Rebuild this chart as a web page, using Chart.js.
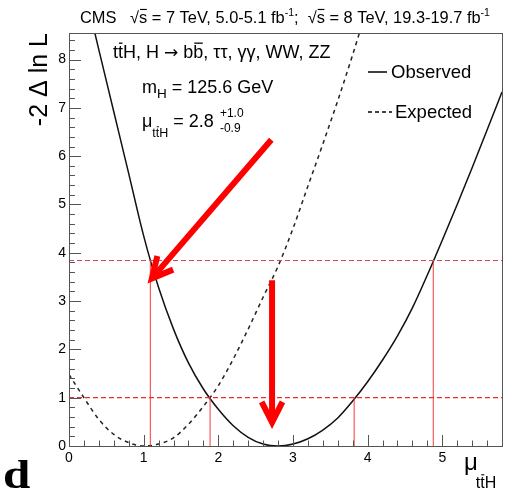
<!DOCTYPE html>
<html>
<head>
<meta charset="utf-8">
<script src="https://cdn.jsdelivr.net/npm/chart.js@4/dist/chart.umd.min.js"></script>
<style>
  html, body { margin: 0; padding: 0; background: #fff; }
  #plot { display: block; }
</style>
</head>
<body>
<canvas id="plot" width="510" height="492"></canvas>
<script>
// ── DATA ───────────────────────────────────────────────────────────────────

// observed likelihood scan, -2 Δ ln L vs μ(ttH)
const MU_OBS  = [0.3, 0.4, 0.6, 0.8, 1.0, 1.2, 1.4, 1.6, 1.8, 2.0, 2.2, 2.4, 2.6, 2.8,
                 3.0, 3.2, 3.4, 3.6, 3.8, 4.0, 4.2, 4.4, 4.6, 4.8, 5.0, 5.2, 5.4, 5.6, 5.8];
const NLL_OBS = [8.85, 8.2, 6.92, 5.64, 4.35, 3.28, 2.42, 1.72, 1.18, 0.76, 0.42, 0.18, 0.04, 0.0,
                 0.04, 0.15, 0.33, 0.58, 0.93, 1.33, 1.78, 2.28, 2.86, 3.54, 4.26, 5.0, 5.76, 6.54, 7.33];

// expected (SM, μ = 1) scan
const MU_EXP  = [0, 0.2, 0.4, 0.6, 0.8, 1.0, 1.2, 1.4, 1.6, 1.8, 2.0,
                 2.2, 2.4, 2.6, 2.8, 3.0, 3.2, 3.4, 3.6, 3.8, 3.9];
const NLL_EXP = [1.48, 1.0, 0.55, 0.24, 0.07, 0.0, 0.04, 0.17, 0.45, 0.82, 1.25,
                 1.8, 2.42, 3.08, 3.72, 4.5, 5.38, 6.25, 7.15, 8.1, 8.6];

// 68% / 95% CL thresholds and where the observed curve crosses them
const CL_LEVELS   = [1, 3.84];
const CROSS_1SIG  = [1.89, 3.82];
const CROSS_2SIG  = [1.09, 4.88];

const X_RANGE = [0, 5.8];
const Y_RANGE = [0, 8.55];

// hand-drawn red arrows, [from, to] in (μ, -2ΔlnL)
const ARROWS = [
  [[2.71, 6.34], [1.11, 3.47]],
  [[2.72, 3.43], [2.72, 0.49]],
];

// ── HELPERS ────────────────────────────────────────────────────────────────

const FONT = '"Liberation Sans", Arial, Helvetica, sans-serif';
const pts = (xs, ys) => xs.map((x, i) => ({ x, y: ys[i] }));

// draws a row of text runs; each run may be raised/lowered and carry an overbar
function drawRuns(ctx, x, y, runs) {
  runs.forEach(r => {
    const size = r.size;
    ctx.font = `${size}px ${r.family || FONT}`;
    const w = ctx.measureText(r.t).width;
    const yy = y + (r.dy || 0);
    ctx.fillText(r.t, x, yy);
    if (r.bar) {
      const bw = ctx.measureText(r.bar).width;
      ctx.fillRect(x + w - bw + 1, yy - size * 0.86, bw - 1.5, Math.max(1, size * 0.07));
    }
    if (!r.stay) x += w;
  });
  return x;
}

function vline(x, y0, y1, color) {
  return {
    data: [{ x, y: y0 }, { x, y: y1 }],
    borderColor: color, borderWidth: 1.2, pointRadius: 0, showLine: true,
  };
}

function hline(y, color) {
  return {
    data: [{ x: X_RANGE[0], y }, { x: X_RANGE[1], y }],
    borderColor: color, borderWidth: 1.2, borderDash: [5, 3], pointRadius: 0, showLine: true,
  };
}

// ── PLUGIN: ROOT-style frame, inward ticks, labels, arrows ─────────────────

const decorations = {
  id: 'decorations',
  afterDatasetsDraw(chart) {
    const { ctx, chartArea: a, scales: { x, y } } = chart;
    ctx.save();

    // frame
    ctx.strokeStyle = '#555';
    ctx.lineWidth = 1;
    ctx.strokeRect(Math.round(a.left) + 0.5, Math.round(a.top) + 0.5,
                   Math.round(a.right - a.left), Math.round(a.bottom - a.top));

    // inward ticks, 5 subdivisions per unit
    ctx.beginPath();
    for (let i = 0; i * 0.2 <= X_RANGE[1] + 1e-6; i++) {
      const px = Math.round(x.getPixelForValue(i * 0.2)) + 0.5;
      const len = i % 5 === 0 ? 11 : 5.5;
      ctx.moveTo(px, a.bottom);
      ctx.lineTo(px, a.bottom - len);
    }
    for (let i = 0; i * 0.2 <= Y_RANGE[1] + 1e-6; i++) {
      const py = Math.round(y.getPixelForValue(i * 0.2)) + 0.5;
      const len = i % 5 === 0 ? 12 : 6;
      ctx.moveTo(a.left, py);
      ctx.lineTo(a.left + len, py);
    }
    ctx.stroke();

    // red arrows
    ctx.strokeStyle = '#ff0000';
    ctx.lineWidth = 6;
    ctx.lineCap = 'butt';
    ctx.lineJoin = 'miter';
    ARROWS.forEach(([from, to]) => {
      const x0 = x.getPixelForValue(from[0]), y0 = y.getPixelForValue(from[1]);
      const x1 = x.getPixelForValue(to[0]),   y1 = y.getPixelForValue(to[1]);
      const ang = Math.atan2(y1 - y0, x1 - x0);
      const head = 23, spread = 0.47;
      ctx.beginPath();
      ctx.moveTo(x0, y0);
      ctx.lineTo(x1 - 4 * Math.cos(ang), y1 - 4 * Math.sin(ang));
      ctx.stroke();
      ctx.beginPath();
      ctx.moveTo(x1 - head * Math.cos(ang - spread), y1 - head * Math.sin(ang - spread));
      ctx.lineTo(x1, y1);
      ctx.lineTo(x1 - head * Math.cos(ang + spread), y1 - head * Math.sin(ang + spread));
      ctx.stroke();
    });

    ctx.restore();
  },

  afterDraw(chart) {
    const { ctx } = chart;
    ctx.save();
    ctx.fillStyle = '#000';
    ctx.textBaseline = 'alphabetic';
    ctx.textAlign = 'left';

    // header
    drawRuns(ctx, 80, 23, [
      { t: 'CMS   ', size: 16.4 },
      { t: '√s', size: 16.4, bar: 's' },
      { t: ' = 7 TeV, 5.0-5.1 fb', size: 16.4 },
      { t: '-1', size: 10.5, dy: -7 },
      { t: ';  ', size: 16.4 },
      { t: '√s', size: 16.4, bar: 's' },
      { t: ' = 8 TeV, 19.3-19.7 fb', size: 16.4 },
      { t: '-1', size: 10.5, dy: -7 },
    ]);

    // in-frame labels
    drawRuns(ctx, 113, 58, [
      { t: 't', size: 18 }, { t: 't', size: 18, bar: 't' },
      { t: 'H, H ', size: 18 },
      { t: '→', size: 17, family: '"DejaVu Sans", sans-serif' },
      { t: ' b', size: 18 }, { t: 'b', size: 18, bar: 'b' },
      { t: ', ττ, γγ, WW, ZZ', size: 18 },
    ]);
    drawRuns(ctx, 142, 93, [
      { t: 'm', size: 18 }, { t: 'H', size: 13.5, dy: 5 },
      { t: ' = 125.6 GeV', size: 18 },
    ]);
    let xe = drawRuns(ctx, 142, 127, [{ t: 'μ', size: 18 }]);
    xe = drawRuns(ctx, xe, 137, [
      { t: 't', size: 12.5 }, { t: 't', size: 12.5, bar: 't' }, { t: 'H', size: 12.5 },
    ]);
    xe = drawRuns(ctx, xe, 127, [{ t: ' = 2.8 ', size: 18 }]);
    drawRuns(ctx, xe + 1, 127, [
      { t: '+1.0', size: 12, dy: -10, stay: true },
      { t: '-0.9', size: 12, dy: 5 },
    ]);

    // legend
    ctx.strokeStyle = '#000';
    ctx.lineWidth = 1.5;
    ctx.beginPath();
    ctx.moveTo(368, 72); ctx.lineTo(387, 72);
    ctx.stroke();
    ctx.setLineDash([4, 3]);
    ctx.beginPath();
    ctx.moveTo(368, 112); ctx.lineTo(392, 112);
    ctx.stroke();
    ctx.setLineDash([]);
    drawRuns(ctx, 391, 78, [{ t: 'Observed', size: 18.5 }]);
    drawRuns(ctx, 395, 118, [{ t: 'Expected', size: 18.5 }]);

    // y title, rotated, flush with the top of the frame
    ctx.save();
    ctx.translate(47, 33);
    ctx.rotate(-Math.PI / 2);
    ctx.font = `25px ${FONT}`;
    ctx.textAlign = 'right';
    ctx.fillText('-2 Δ ln L', 0, 0);
    ctx.restore();

    // x title
    xe = drawRuns(ctx, 464, 470, [{ t: 'μ', size: 24 }]);
    drawRuns(ctx, xe - 2, 488, [
      { t: 't', size: 16 }, { t: 't', size: 16, bar: 't' }, { t: 'H', size: 16 },
    ]);

    // panel letter, heavy and slightly widened
    ctx.save();
    ctx.translate(3, 488);
    ctx.scale(1.2, 1);
    ctx.font = 'bold 41px "Liberation Serif", "Times New Roman", serif';
    ctx.fillText('d', 0, 0);
    ctx.restore();

    ctx.restore();
  },
};

// ── CHART ──────────────────────────────────────────────────────────────────

const tickFont = { family: FONT, size: 14 };

new Chart(document.getElementById('plot').getContext('2d'), {
  type: 'scatter',
  data: {
    datasets: [
      hline(CL_LEVELS[1], '#cc4a5a'),
      hline(CL_LEVELS[0], '#ee2a2a'),
      vline(CROSS_2SIG[0], 0, CL_LEVELS[1], 'rgba(245,50,50,0.8)'),
      vline(CROSS_2SIG[1], 0, CL_LEVELS[1], 'rgba(245,50,50,0.8)'),
      vline(CROSS_1SIG[0], 0, CL_LEVELS[0], 'rgba(245,50,50,0.8)'),
      vline(CROSS_1SIG[1], 0, CL_LEVELS[0], 'rgba(245,50,50,0.8)'),
      {
        label: 'Expected',
        data: pts(MU_EXP, NLL_EXP),
        showLine: true,
        borderColor: '#222',
        borderWidth: 1.5,
        borderDash: [4, 4],
        pointRadius: 0,
        cubicInterpolationMode: 'monotone',
      },
      {
        label: 'Observed',
        data: pts(MU_OBS, NLL_OBS),
        showLine: true,
        borderColor: '#111',
        borderWidth: 1.5,
        pointRadius: 0,
        cubicInterpolationMode: 'monotone',
      },
    ],
  },
  options: {
    responsive: false,
    animation: false,
    devicePixelRatio: 1,
    layout: { padding: { top: 33, right: 8, left: 0, bottom: 0 } },
    plugins: { legend: { display: false }, tooltip: { enabled: false } },
    scales: {
      x: {
        type: 'linear',
        min: X_RANGE[0], max: X_RANGE[1],
        grid: { display: false, drawTicks: false },
        border: { display: false },
        ticks: { stepSize: 1, includeBounds: false, color: '#000', font: tickFont, padding: 4, maxRotation: 0 },
        afterFit: s => { s.height = 46; },
      },
      y: {
        type: 'linear',
        min: Y_RANGE[0], max: Y_RANGE[1],
        grid: { display: false, drawTicks: false },
        border: { display: false },
        ticks: { stepSize: 1, includeBounds: false, color: '#000', font: tickFont, padding: 3 },
        afterFit: s => { s.width = 69; },
      },
    },
  },
  plugins: [decorations],
});
</script>
</body>
</html>
